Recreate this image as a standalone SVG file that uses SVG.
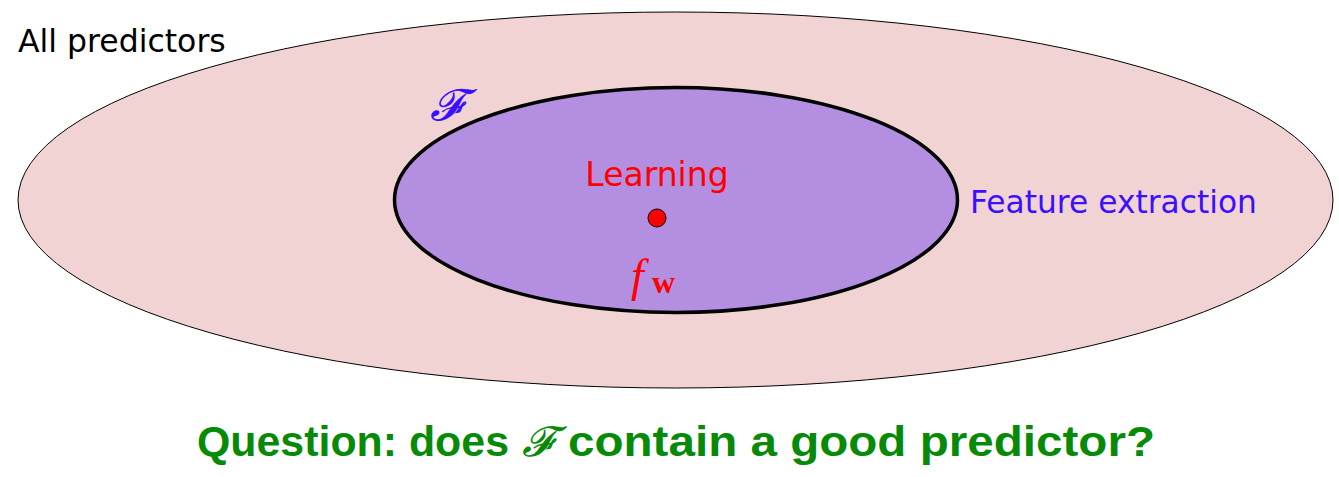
<svg xmlns="http://www.w3.org/2000/svg" width="1339" height="477" viewBox="0 0 1339 477">
<style>
.sans{font-family:"DejaVu Sans","Liberation Sans",sans-serif}
.math{font-family:"Liberation Serif","DejaVu Serif",serif;font-style:italic}
.q{font-family:"Liberation Sans",sans-serif;font-weight:bold;font-size:42px;fill:#078a07}
</style>
<rect width="1339" height="477" fill="#ffffff"/>
<g id="all-predictors">
<ellipse cx="675.5" cy="200" rx="657.5" ry="188" fill="#f2d3d4" stroke="#000" stroke-width="1"/>
<text x="18" y="52" class="sans" font-size="31.5" fill="#000">All predictors</text>
</g>
<g id="F-set">
<ellipse cx="676" cy="200" rx="281.5" ry="112.5" fill="#b48ee0" stroke="#000" stroke-width="3.5"/>
<text x="430" y="120" class="math" font-size="44" fill="#3a10ff">𝓕</text>
</g>
<g id="learning">
<text x="657" y="186" class="sans" font-size="33" fill="#ff0000" text-anchor="middle">Learning</text>
<circle cx="657" cy="218" r="9" fill="#ff0000" stroke="#000" stroke-width="1"/>
<text x="631" y="291" class="math" font-size="46" fill="#ff0000">f</text>
<text x="652" y="293" font-family="Liberation Serif,serif" font-weight="bold" font-size="32" fill="#ff0000">w</text>
</g>
<g id="connectors">
<text x="970" y="213" class="sans" font-size="31.3" fill="#3a10ff">Feature extraction</text>
</g>
<g id="question">
<text class="q" y="456"><tspan x="197" textLength="312" lengthAdjust="spacingAndGlyphs">Question: does</tspan> <tspan x="522" class="math" font-weight="normal">𝓕</tspan> <tspan x="568" textLength="587" lengthAdjust="spacingAndGlyphs">contain a good predictor?</tspan></text>
</g>
</svg>
